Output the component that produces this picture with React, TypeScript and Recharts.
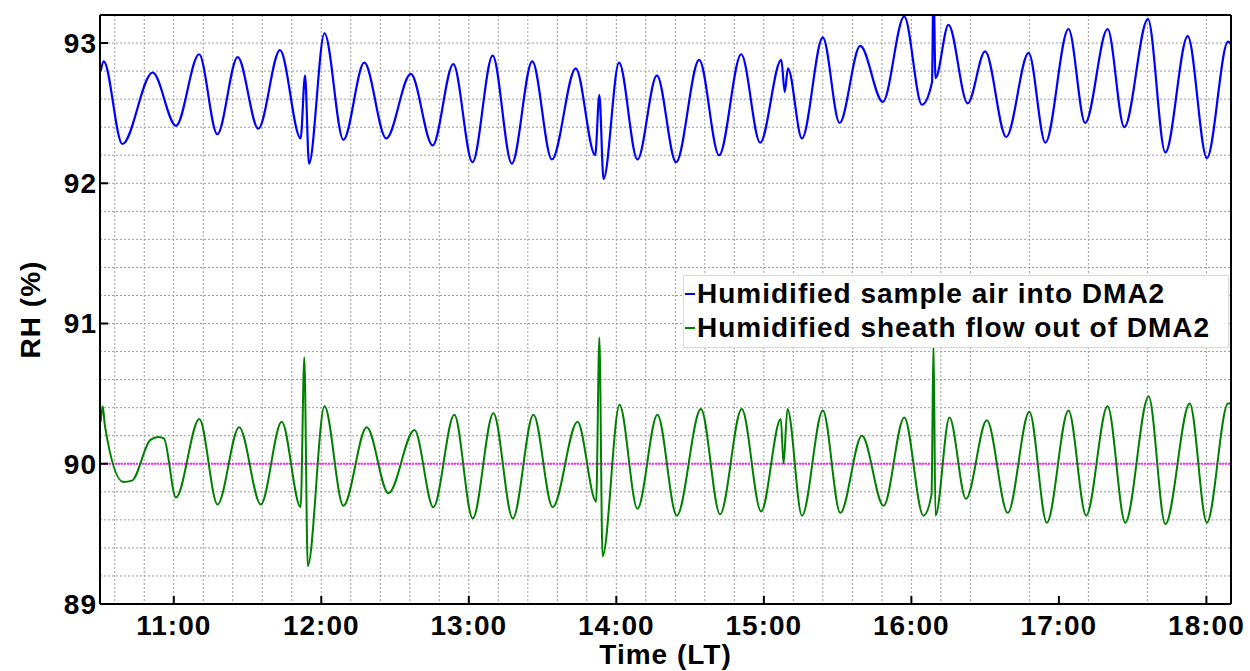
import React from 'react';
import { ComposedChart, Line, XAxis, YAxis, CartesianGrid, ReferenceLine, Legend } from 'recharts';

// time in minutes after midnight (local time)
const blueTime = [630.3, 631.5, 639.1, 651.4, 660.9, 670.3, 677.7, 686.0, 694.4, 703.2, 711.6, 713.4, 715.0, 721.3, 729.0, 737.5, 746.4, 756.4, 765.3, 773.7, 781.5, 789.7, 797.5, 805.8, 813.8, 823.5, 831.4, 833.1, 834.8, 841.1, 848.6, 856.5, 864.3, 873.7, 881.8, 890.8, 898.5, 907.1, 908.5, 909.8, 915.5, 924.0, 930.8, 939.2, 948.4, 957.1, 964.3, 968.4, 969.0, 969.8, 975.1, 982.9, 990.0, 998.6, 1007.7, 1014.5, 1023.9, 1030.7, 1039.8, 1046.6, 1056.2, 1063.3, 1072.4, 1080.2, 1088.8, 1090.0];
const blueRH = [92.80, 92.87, 92.28, 92.79, 92.41, 92.92, 92.35, 92.90, 92.39, 92.95, 92.32, 92.77, 92.14, 93.07, 92.31, 92.86, 92.32, 92.78, 92.27, 92.85, 92.15, 92.91, 92.14, 92.87, 92.17, 92.82, 92.20, 92.63, 92.03, 92.86, 92.17, 92.77, 92.15, 92.88, 92.20, 92.92, 92.29, 92.88, 92.65, 92.82, 92.32, 93.04, 92.43, 92.98, 92.58, 93.19, 92.56, 92.72, 93.45, 92.75, 93.13, 92.57, 92.94, 92.33, 92.93, 92.29, 93.10, 92.43, 93.10, 92.40, 93.17, 92.22, 93.05, 92.18, 93.01, 92.99];

const greenTime = [630.3, 631.1, 632.0, 639.5, 643.0, 650.5, 653.7, 656.0, 660.9, 670.4, 677.8, 686.6, 695.4, 703.9, 711.6, 713.1, 714.5, 721.3, 729.0, 738.5, 747.3, 757.9, 765.6, 774.1, 781.6, 790.0, 797.9, 806.3, 814.1, 824.2, 831.8, 833.1, 834.4, 841.3, 848.6, 856.7, 864.6, 874.4, 882.2, 891.0, 898.9, 906.9, 908.0, 909.6, 915.5, 924.0, 931.1, 939.9, 948.7, 957.1, 964.9, 968.2, 969.0, 969.8, 975.5, 982.2, 990.7, 999.2, 1008.0, 1015.1, 1023.9, 1031.1, 1039.8, 1047.0, 1056.5, 1063.3, 1073.2, 1080.2, 1088.8, 1090.0];
const greenRH = [90.30, 90.41, 90.27, 89.87, 89.88, 90.17, 90.19, 90.18, 89.76, 90.32, 89.71, 90.26, 89.71, 90.30, 89.69, 90.76, 89.27, 90.41, 89.70, 90.26, 89.79, 90.24, 89.69, 90.35, 89.61, 90.36, 89.61, 90.35, 89.69, 90.30, 89.73, 90.90, 89.34, 90.42, 89.68, 90.35, 89.63, 90.39, 89.64, 90.39, 89.66, 90.32, 90.00, 90.39, 89.63, 90.38, 89.65, 90.20, 89.70, 90.33, 89.63, 89.78, 90.87, 89.63, 90.33, 89.75, 90.31, 89.65, 90.37, 89.58, 90.38, 89.63, 90.41, 89.58, 90.48, 89.57, 90.43, 89.58, 90.43, 90.43];

const hourTicks = [660, 720, 780, 840, 900, 960, 1020, 1080];
const rhTicks = [89, 90, 91, 92, 93];
const minorTimeTicks = Array.from({ length: 38 }, (_, i) => 636 + i * 12);
const minorRhTicks = Array.from({ length: 22 }, (_, i) => Math.round((89 + i * 0.2) * 10) / 10);
const targetRH = 90;

const blueName = 'Humidified sample air into DMA2';
const greenName = 'Humidified sheath flow out of DMA2';

const blueData = blueTime.map((t, i) => ({ t, rh: blueRH[i] }));
const greenData = greenTime.map((t, i) => ({ t, rh: greenRH[i] }));

const FONT = '"Liberation Sans", Arial, Helvetica, sans-serif';
const fmt = (m: number) => `${Math.floor(m / 60)}:${String(Math.round(m % 60)).padStart(2, '0')}`;
const textStyle = { fill: '#000', fontSize: 28, fontWeight: 'bold', fontFamily: FONT, letterSpacing: 1 };
const axisLineStyle = { stroke: '#000', strokeWidth: 2 };

const LegendBox = (props: any) => {
  const payload = props.payload || [];
  return (
    <div style={{ boxSizing: 'border-box', width: 546, background: '#fff', border: '1px solid #d8d8d8', padding: '1px 2px 2px 1px', fontFamily: FONT, fontWeight: 'bold', fontSize: 28, letterSpacing: 1, lineHeight: '34px', color: '#000', whiteSpace: 'nowrap' }}>
      {payload.map((p: any) => (
        <div key={p.value} style={{ display: 'flex', alignItems: 'center' }}>
          <span style={{ display: 'inline-block', width: 10, height: 1.5, background: p.color, marginRight: 2 }} />
          <span>{p.value}</span>
        </div>
      ))}
    </div>
  );
};

const YLabel = (props: any) => {
  const vb = props.viewBox || { x: 0, y: 0, width: 0, height: 0 };
  const cx = vb.x + 30;
  const cy = vb.y + vb.height / 2;
  return (
    <text x={cx} y={cy} transform={`rotate(-90, ${cx}, ${cy})`} textAnchor="middle" dominantBaseline="central" style={textStyle}>
      RH (%)
    </text>
  );
};

export default function App() {
  return (
    <div style={{ position: 'absolute', left: 0, top: 0, background: '#fff' }}>
      <ComposedChart width={1250} height={671} margin={{ top: 15, right: 19, bottom: 0, left: 0 }}>
        <XAxis xAxisId="minor" type="number" dataKey="t" domain={[630, 1090]} ticks={minorTimeTicks} allowDataOverflow hide />
        <YAxis yAxisId="minor" type="number" domain={[89, 93.2]} ticks={minorRhTicks} allowDataOverflow hide />
        <CartesianGrid xAxisId="minor" yAxisId="minor" stroke="#9c9c9c" strokeDasharray="2 2" strokeWidth={1} />
        <XAxis
          xAxisId="main"
          type="number"
          dataKey="t"
          domain={[630, 1090]}
          ticks={hourTicks}
          interval={0}
          allowDataOverflow
          tickFormatter={fmt}
          tickSize={-8}
          tickMargin={19}
          height={67}
          axisLine={axisLineStyle}
          tickLine={axisLineStyle}
          tick={textStyle}
          label={{ value: 'Time (LT)', position: 'insideBottom', offset: 7, style: textStyle }}
        />
        <XAxis xAxisId="top" orientation="top" mirror type="number" dataKey="t" domain={[630, 1090]} ticks={hourTicks} interval={0} allowDataOverflow tick={false} tickSize={8} axisLine={axisLineStyle} tickLine={axisLineStyle} />
        <YAxis
          yAxisId="main"
          type="number"
          domain={[89, 93.2]}
          ticks={rhTicks}
          interval={0}
          allowDataOverflow
          width={100}
          tickSize={-8}
          tickMargin={11}
          axisLine={axisLineStyle}
          tickLine={axisLineStyle}
          tick={textStyle}
          label={<YLabel />}
        />
        <YAxis yAxisId="right" orientation="right" mirror type="number" domain={[89, 93.2]} ticks={rhTicks} interval={0} allowDataOverflow tick={false} tickSize={8} axisLine={axisLineStyle} tickLine={axisLineStyle} />
        <ReferenceLine xAxisId="main" yAxisId="main" y={targetRH} stroke="#ff22ff" strokeWidth={2} strokeDasharray="2 1" />
        <Line xAxisId="main" yAxisId="main" data={blueData} dataKey="rh" name={blueName} type="monotone" stroke="#0000ff" strokeWidth={2.2} dot={false} activeDot={false} isAnimationActive={false} />
        <Line xAxisId="main" yAxisId="main" data={greenData} dataKey="rh" name={greenName} type="monotone" stroke="#008000" strokeWidth={2} dot={false} activeDot={false} isAnimationActive={false} />
        <Legend layout="vertical" align="center" verticalAlign="middle" content={<LegendBox />} wrapperStyle={{ position: 'absolute', left: 683, top: 275, width: 'auto', height: 'auto' }} />
      </ComposedChart>
    </div>
  );
}
